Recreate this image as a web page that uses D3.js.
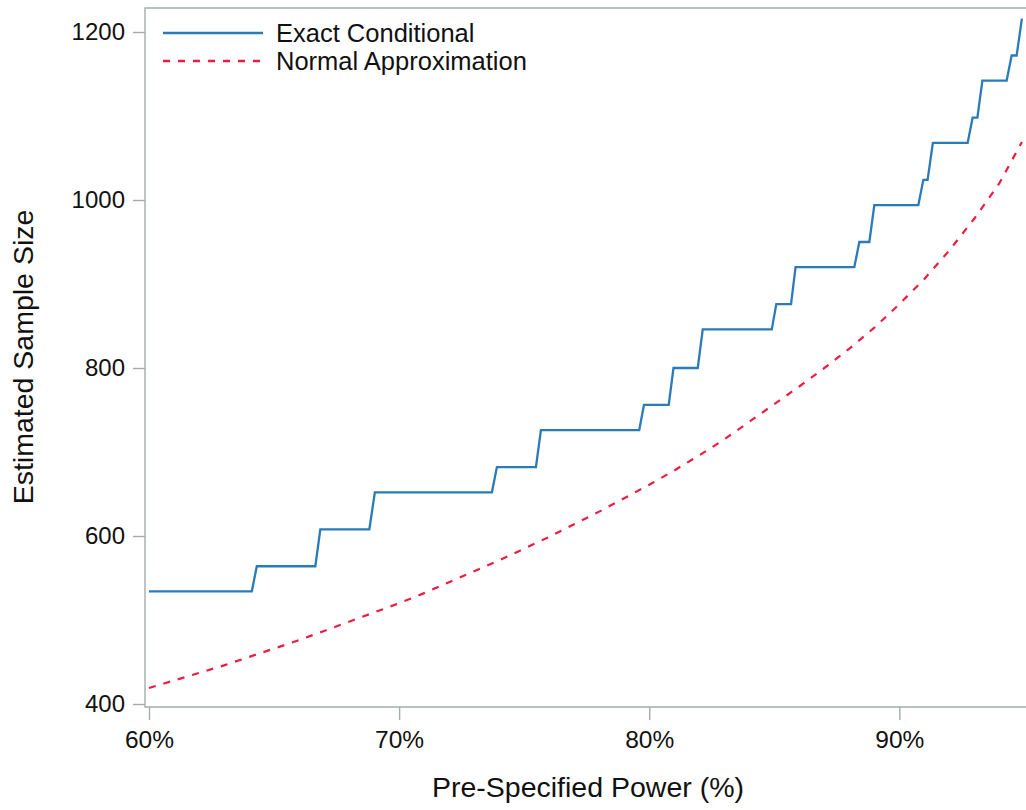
<!DOCTYPE html>
<html>
<head>
<meta charset="utf-8">
<script src="https://cdn.jsdelivr.net/npm/d3@7"></script>
<style>
  body { margin: 0; background: #fff; }
  text { font-family: "Liberation Sans", Arial, sans-serif; fill: #111; }
</style>
</head>
<body>
<svg id="chart" width="1026" height="810"></svg>
<script>
// Exact conditional: corners of the step curve (power in %, sample size)
var exactPower = [60, 64.11, 64.31, 66.65, 66.85, 68.81, 69.03, 73.71, 73.91, 75.47, 75.67,
                  79.60, 79.79, 80.78, 80.97, 81.94, 82.14, 84.90, 85.08, 85.67, 85.85,
                  88.20, 88.40, 88.80, 89.00, 90.76, 90.96, 91.13, 91.34, 92.73, 92.93,
                  93.12, 93.32, 94.29, 94.49, 94.69, 94.90];
var exactSize  = [534, 534, 564, 564, 608, 608, 652, 652, 682, 682, 726,
                  726, 756, 756, 800, 800, 846, 846, 876, 876, 920,
                  920, 950, 950, 994, 994, 1024, 1024, 1068, 1068, 1098,
                  1098, 1142, 1142, 1172, 1172, 1216];

// Normal approximation
var normalPower = [60, 61, 62, 63, 64, 65, 66, 67, 68, 69, 70, 71, 72, 73, 74, 75, 76, 77,
                   78, 79, 80, 81, 82, 83, 84, 85, 86, 87, 88, 89, 90, 91, 92, 93, 94, 94.9];
var normalSize  = [419, 428, 437, 446, 456, 466, 476, 487, 498, 509, 520, 532, 545, 558, 571, 585, 599, 614,
                   629, 645, 661, 678, 696, 715, 736, 757, 778, 800, 823, 848, 876, 906, 940, 978, 1020, 1069];

var xTicks = [60, 70, 80, 90];
var yTicks = [400, 600, 800, 1000, 1200];

var seriesNames = ["Exact Conditional", "Normal Approximation"];
var colors = ["#2b7bb9", "#ec1d3f"];

var axisColor = "#a3adad";

var svg = d3.select("#chart");

// frame of the plot area (right side runs off the picture)
var frame = {left: 145, top: 8, right: 1040, bottom: 707};

var x = d3.scaleLinear().domain([60, 95]).range([149, 1024.4]);
var y = d3.scaleLinear().domain([400, 1200]).range([704, 32]);

svg.append("path")
    .attr("d", "M" + frame.right + "," + frame.top + "H" + frame.left + "V" + frame.bottom + "H" + frame.right)
    .attr("fill", "none")
    .attr("stroke", axisColor)
    .attr("stroke-width", 1.4);

// x axis
var xAxis = d3.axisBottom(x)
    .tickValues(xTicks)
    .tickSize(13)
    .tickFormat(function(d) { return d + "%"; });

var gx = svg.append("g")
    .attr("transform", "translate(0," + frame.bottom + ")")
    .call(xAxis);
gx.select(".domain").remove();
gx.selectAll(".tick line").attr("stroke", axisColor).attr("stroke-width", 1.4);
gx.selectAll(".tick text")
    .attr("y", 24)
    .attr("dy", "0.71em")
    .style("font-size", "24.5px")
    .attr("fill", "#111");

// y axis
var yAxis = d3.axisLeft(y)
    .tickValues(yTicks)
    .tickSize(12)
    .tickFormat(d3.format("d"));

var gy = svg.append("g")
    .attr("transform", "translate(" + frame.left + ",0)")
    .call(yAxis);
gy.select(".domain").remove();
gy.selectAll(".tick line").attr("stroke", axisColor).attr("stroke-width", 1.4);
gy.selectAll(".tick text")
    .attr("x", -20)
    .style("font-size", "24px")
    .attr("fill", "#111");

// axis titles
svg.append("text")
    .attr("x", 588)
    .attr("y", 797)
    .attr("text-anchor", "middle")
    .style("font-size", "28.5px")
    .text("Pre-Specified Power (%)");

svg.append("text")
    .attr("transform", "translate(33,357) rotate(-90)")
    .attr("text-anchor", "middle")
    .style("font-size", "28.5px")
    .text("Estimated Sample Size");

// lines
var line = d3.line()
    .x(function(d) { return x(d[0]); })
    .y(function(d) { return y(d[1]); });

var normalData = d3.zip(normalPower, normalSize);
var exactData = d3.zip(exactPower, exactSize);

svg.append("path")
    .datum(normalData)
    .attr("d", line)
    .attr("fill", "none")
    .attr("stroke", colors[1])
    .attr("stroke-width", 2.2)
    .attr("stroke-dasharray", "7,8");

svg.append("path")
    .datum(exactData)
    .attr("d", line)
    .attr("fill", "none")
    .attr("stroke", colors[0])
    .attr("stroke-width", 2.3);

// legend
var legend = svg.append("g").attr("transform", "translate(163,33)");
seriesNames.forEach(function(name, i) {
    var g = legend.append("g").attr("transform", "translate(0," + (i * 28) + ")");
    g.append("line")
        .attr("x1", 0).attr("x2", 100)
        .attr("stroke", colors[i])
        .attr("stroke-width", 2.3)
        .attr("stroke-dasharray", i == 1 ? "7,8" : null);
    g.append("text")
        .attr("x", 113)
        .attr("dy", "0.35em")
        .style("font-size", "25.5px")
        .text(name);
});
</script>
</body>
</html>
